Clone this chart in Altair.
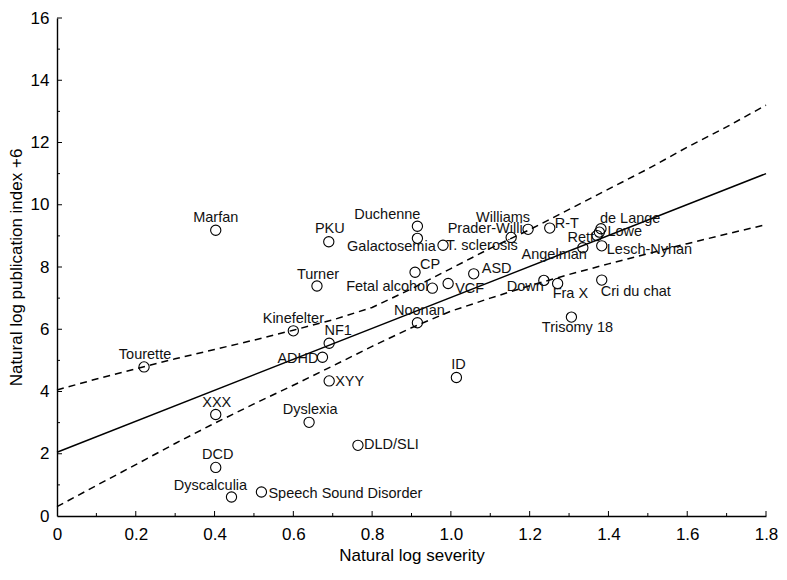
import altair as alt
import pandas as pd

# ---- data ----
names = ["Marfan", "PKU", "Duchenne", "Galactosemia", "T. sclerosis", "CP", "Turner",
         "Fetal alcohol", "ASD", "VCF", "Noonan", "Down", "Fra X", "Cri du chat",
         "Trisomy 18", "Angelman", "Lesch-Nyhan", "Williams", "Prader-Willi", "R-T",
         "de Lange", "Lowe", "Rett", "Kinefelter", "NF1", "ADHD", "XYY", "XXX",
         "Dyslexia", "DLD/SLI", "Tourette", "DCD", "Dyscalculia",
         "Speech Sound Disorder", "ID"]
severity = [0.403, 0.690, 0.915, 0.915, 0.980, 0.909, 0.660,
            0.953, 1.058, 0.993, 0.915, 1.236, 1.271, 1.383,
            1.306, 1.335, 1.383, 1.196, 1.153, 1.251,
            1.381, 1.377, 1.371, 0.600, 0.691, 0.674, 0.691, 0.403,
            0.640, 0.764, 0.221, 0.403, 0.443,
            0.519, 1.014]
publication = [9.18, 8.81, 9.31, 8.92, 8.70, 7.83, 7.39,
               7.32, 7.78, 7.47, 6.21, 7.57, 7.47, 7.58,
               6.39, 8.62, 8.68, 9.21, 8.95, 9.25,
               9.23, 9.12, 9.01, 5.95, 5.55, 5.10, 4.34, 3.26,
               3.01, 2.27, 4.79, 1.56, 0.61,
               0.77, 4.45]

fit_x = [0.0, 1.8]
fit_y = [2.05, 11.0]

band_x = [0.0, 0.1, 0.2, 0.3, 0.4, 0.5, 0.6, 0.7, 0.8, 0.9,
          1.0, 1.1, 1.2, 1.3, 1.4, 1.5, 1.6, 1.7, 1.8]
band_upper = [4.05, 4.40, 4.73, 5.05, 5.35, 5.65, 5.97, 6.30, 6.70, 7.30,
              7.95, 8.60, 9.20, 9.85, 10.50, 11.15, 11.85, 12.50, 13.20]
band_lower = [0.30, 0.98, 1.65, 2.33, 2.98, 3.60, 4.20, 4.82, 5.45, 6.05,
              6.58, 7.00, 7.40, 7.76, 8.10, 8.43, 8.75, 9.06, 9.36]

x_major = [0.0, 0.2, 0.4, 0.6, 0.8, 1.0, 1.2, 1.4, 1.6, 1.8]
x_minor = [0.1, 0.3, 0.5, 0.7, 0.9, 1.1, 1.3, 1.5, 1.7]
y_major = [0, 2, 4, 6, 8, 10, 12, 14, 16]
y_minor = [1, 3, 5, 7, 9, 11, 13, 15]

# ---- label placement (align, dx, dy) ----
label_style = {
    "Marfan": ("center", 0, -12), "PKU": ("center", 1, -13),
    "Duchenne": ("right", 3, -11), "Galactosemia": ("center", -26, 9),
    "T. sclerosis": ("left", 3, 1), "CP": ("left", 5, -7),
    "Turner": ("center", 1, -11), "Fetal alcohol": ("right", -4, -1),
    "ASD": ("left", 8, -5), "VCF": ("left", 7, 6),
    "Noonan": ("center", 2, -12), "Down": ("right", 0, 7),
    "Fra X": ("left", -5, 11), "Cri du chat": ("left", -1, 12),
    "Trisomy 18": ("center", 6, 11), "Angelman": ("right", 4, 7),
    "Lesch-Nyhan": ("left", 5, 4), "Williams": ("right", 2, -11),
    "Prader-Willi": ("center", -26, -8), "R-T": ("left", 5, -4),
    "de Lange": ("left", -1, -10), "Lowe": ("left", 8, 0),
    "Rett": ("right", -3, 2), "Kinefelter": ("center", 0, -12),
    "NF1": ("center", 9, -12), "ADHD": ("right", -4, 2),
    "XYY": ("left", 6, 1), "XXX": ("center", 1, -12),
    "Dyslexia": ("center", 1, -12), "DLD/SLI": ("left", 6, 0),
    "Tourette": ("center", 1, -12), "DCD": ("center", 2, -12),
    "Dyscalculia": ("center", -21, -11),
    "Speech Sound Disorder": ("left", 7, 2), "ID": ("center", 2, -12),
}

W, H = 709, 498
FONT = "Liberation Sans"

pts = pd.DataFrame({"name": names, "sev": severity, "pub": publication})
fit = pd.DataFrame({"sev": fit_x, "pub": fit_y})
band = pd.DataFrame({"sev": band_x * 2,
                     "pub": band_upper + band_lower,
                     "grp": ["upper"] * len(band_x) + ["lower"] * len(band_x)})

xs = alt.Scale(domain=[0, 1.8], nice=False, zero=False)
ys = alt.Scale(domain=[0, 16], nice=False, zero=False)

axis_style = dict(domainColor="black", domainWidth=1.4, labelFont=FONT, labelFontSize=17,
                  labelColor="black", titleFont=FONT, titleFontSize=17,
                  titleFontWeight="normal", titleColor="black", ticks=False, tickSize=0,
                  grid=False, labelFlush=False, labelOverlap=False)

xaxis = alt.Axis(values=x_major,
                 labelExpr="datum.value == 0 ? '0' : format(datum.value, '.1f')",
                 labelPadding=10, titlePadding=5, title="Natural log severity", **axis_style)
yaxis = alt.Axis(values=y_major, format="d", labelPadding=8, titlePadding=5,
                 title="Natural log publication index +6", **axis_style)

base_pts = alt.Chart(pts)

points = base_pts.mark_point(shape="circle", filled=False, size=105, color="black",
                             strokeWidth=1.1, opacity=1).encode(
    x=alt.X("sev:Q", scale=xs, axis=xaxis),
    y=alt.Y("pub:Q", scale=ys, axis=yaxis),
)

fit_line = alt.Chart(fit).mark_line(color="black", strokeWidth=1.5).encode(
    x=alt.X("sev:Q", scale=xs), y=alt.Y("pub:Q", scale=ys))

band_lines = alt.Chart(band).mark_line(color="black", strokeWidth=1.5,
                                       strokeDash=[7, 5]).encode(
    x=alt.X("sev:Q", scale=xs), y=alt.Y("pub:Q", scale=ys), detail="grp:N")

xt_major = alt.Chart(pd.DataFrame({"v": x_major[1:]})).mark_rule(color="black", strokeWidth=1).encode(
    x=alt.X("v:Q", scale=xs), y=alt.value(H), y2=alt.value(H - 5))
xt_minor = alt.Chart(pd.DataFrame({"v": x_minor})).mark_rule(color="black", strokeWidth=1).encode(
    x=alt.X("v:Q", scale=xs), y=alt.value(H), y2=alt.value(H - 3))
yt_major = alt.Chart(pd.DataFrame({"v": y_major[1:]})).mark_rule(color="black", strokeWidth=1).encode(
    y=alt.Y("v:Q", scale=ys), x=alt.value(0), x2=alt.value(5))
yt_minor = alt.Chart(pd.DataFrame({"v": y_minor})).mark_rule(color="black", strokeWidth=1).encode(
    y=alt.Y("v:Q", scale=ys), x=alt.value(0), x2=alt.value(3))

label_layers = []
for nm in names:
    al, dx, dy = label_style[nm]
    label_layers.append(
        base_pts.transform_filter(alt.datum.name == nm).mark_text(
            align=al, baseline="middle", dx=dx, dy=dy, font=FONT, fontSize=14.5,
            color="#111111").encode(
            x=alt.X("sev:Q", scale=xs), y=alt.Y("pub:Q", scale=ys), text="name:N"))

chart = alt.layer(band_lines, fit_line, xt_major, xt_minor, yt_major, yt_minor,
                  points, *label_layers).properties(
    width=W, height=H,
    background="white",
    autosize=alt.AutoSizeParams(type="none"),
    padding={"left": 49, "top": 10, "right": 13, "bottom": 56},
).configure_view(stroke=None)

chart.save("out.html", embed_options={"renderer": "svg", "actions": False})
